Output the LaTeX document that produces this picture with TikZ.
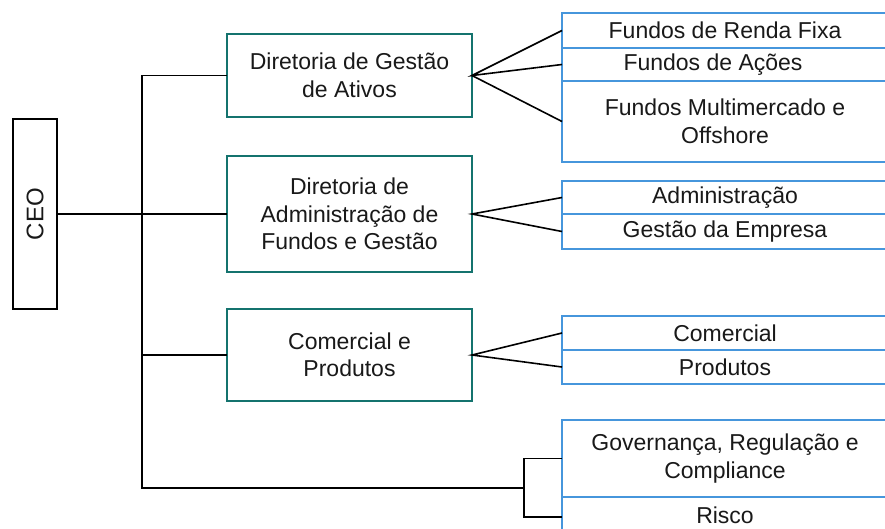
\documentclass[tikz,border=0pt]{standalone}
\usepackage{fontspec}
\setmainfont{Liberation Sans}
\definecolor{tealbox}{RGB}{20,115,110}
\definecolor{bluebox}{RGB}{70,150,220}
\definecolor{txt}{RGB}{25,25,25}
\begin{document}
\begin{tikzpicture}[x=1pt,y=-1pt,
  every node/.style={inner sep=0pt, outer sep=0pt, text=txt, font=\fontsize{23}{27.5}\selectfont},
  ceobox/.style={draw=black, line width=2.4pt, minimum width=44pt, minimum height=190pt},
  mainbox/.style={draw=tealbox, line width=2.6pt, minimum width=245pt, align=center},
  cell/.style={draw=bluebox, line width=2.2pt, minimum width=326pt, align=center},
  conn/.style={draw=black, line width=1.6pt}]
\useasboundingbox (0,0) rectangle (885,528);
\fill[white] (0,0) rectangle (885,528);

% CEO
\node[ceobox] (ceo) at (35,214) {};
\node[rotate=90, font=\fontsize{24}{28}\selectfont] (ceot) at (ceo.center) {CEO};

% main boxes
\node[mainbox, minimum height=83pt] (d1) at (349.5,75.5) {Diretoria de Gestão\\de Ativos};
\node[mainbox, minimum height=116pt] (d2) at (349.5,214) {Diretoria de\\Administração de\\Fundos e Gestão};
\node[mainbox, minimum height=92pt] (d3) at (349.5,355) {Comercial e\\Produtos};

% right cells
\node[cell, minimum height=35pt] (g1a) at (725,30.5) {Fundos de Renda Fixa};
\node[cell, minimum height=33pt] (g1b) at (725,64.5) {};
\node (g1bt) at (713,64.5) {Fundos de Ações};
\node[cell, minimum height=81pt] (g1c) at (725,121.5) {Fundos Multimercado e\\Offshore};
\node[cell, minimum height=33pt] (g2a) at (725,197.5) {Administração};
\node[cell, minimum height=35pt] (g2b) at (725,231.5) {Gestão da Empresa};
\node[cell, minimum height=34pt] (g3a) at (725,333) {Comercial};
\node[cell, minimum height=34pt] (g3b) at (725,367) {Produtos};
\node[cell, minimum height=77pt] (g4a) at (725,458.5) {Governança, Regulação e\\Compliance};
\node[cell, minimum height=40pt] (g4b) at (725,517) {};
\node (g4bt) at (725,515) {Risco};

% spine
\coordinate (sp1) at (142,75.5);
\coordinate (sp4) at (142,488);
\coordinate (brx) at (524,488);
\draw[conn] (d1.west) -- (sp1) -- (sp4) -- (brx);
\draw[conn] (ceo.east) -- (ceo.east -| d2.west);
\draw[conn] (d3.west) -- (d3.west -| sp1);
\draw[conn] (g4a.west) -- (g4a.west -| brx) -- (brx |- g4b.west) -- (g4b.west);

% fans
\draw[conn] (g1a.west) -- (d1.east) -- (g1b.west);
\draw[conn] (d1.east) -- (g1c.west);
\draw[conn] (g2a.west) -- (d2.east) -- (g2b.west);
\draw[conn] (g3a.west) -- (d3.east) -- (g3b.west);
\end{tikzpicture}
\end{document}
